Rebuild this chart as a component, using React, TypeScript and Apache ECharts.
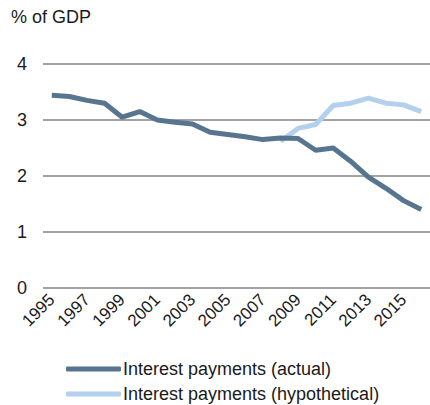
import React, { useEffect, useRef } from "react";
import * as echarts from "echarts";

const years = [
  "1995", "1996", "1997", "1998", "1999", "2000", "2001", "2002", "2003", "2004", "2005",
  "2006", "2007", "2008", "2009", "2010", "2011", "2012", "2013", "2014", "2015", "2016",
];
const actual = [
  3.44, 3.42, 3.35, 3.3, 3.05, 3.15, 3.0, 2.96, 2.93, 2.78, 2.74,
  2.7, 2.65, 2.68, 2.67, 2.46, 2.5, 2.26, 1.98, 1.78, 1.56, 1.4,
];
const hypothetical = [
  null, null, null, null, null, null, null, null, null, null, null,
  null, null, 2.62, 2.85, 2.92, 3.26, 3.3, 3.39, 3.3, 3.27, 3.15,
];
const yTicks = [0, 1, 2, 3, 4];

const FONT = "Arial, 'Liberation Sans', sans-serif";

export default function App() {
  const ref = useRef<HTMLDivElement>(null);
  useEffect(() => {
    if (!ref.current) return;
    const chart = echarts.init(ref.current, null, { renderer: "svg" });
    chart.setOption({
      animation: false,
      title: {
        text: "% of GDP",
        left: 6,
        top: 3,
        textStyle: { fontSize: 18, fontWeight: "normal", color: "#1a1a1a", fontFamily: FONT },
      },
      grid: { left: 43, top: 64, width: 392, height: 224, containLabel: false },
      xAxis: {
        type: "category",
        data: years,
        boundaryGap: true,
        axisLine: { show: false },
        axisTick: { show: false },
        axisLabel: {
          interval: 1,
          rotate: 45,
          margin: 9,
          fontSize: 17,
          color: "#1a1a1a",
          fontFamily: FONT,
        },
      },
      yAxis: {
        type: "value",
        min: yTicks[0],
        max: yTicks[yTicks.length - 1],
        interval: 1,
        axisLine: { show: false },
        axisTick: { show: false },
        axisLabel: { fontSize: 18, color: "#1a1a1a", margin: 16, fontFamily: FONT },
        splitLine: { lineStyle: { color: "#848484", width: 1.5 } },
      },
      legend: {
        orient: "vertical",
        left: 61,
        top: 358,
        height: 80,
        itemWidth: 55,
        itemHeight: 5,
        itemGap: 7,
        padding: [2, 5, 0, 5],
        icon: "roundRect",
        textStyle: { fontSize: 18, color: "#1a1a1a", fontFamily: FONT, padding: [0, 0, 0, -3] },
        data: ["Interest payments (actual)", "Interest payments (hypothetical)"],
      },
      series: [
        {
          name: "Interest payments (actual)",
          type: "line",
          data: actual,
          symbol: "none",
          lineStyle: { color: "#587590", width: 5 },
          itemStyle: { color: "#587590" },
          z: 3,
        },
        {
          name: "Interest payments (hypothetical)",
          type: "line",
          data: hypothetical,
          symbol: "none",
          lineStyle: { color: "#b3d1ef", width: 5 },
          itemStyle: { color: "#b3d1ef" },
          z: 2,
        },
      ],
    });
    return () => chart.dispose();
  }, []);
  return (
    <div
      ref={ref}
      style={{ position: "absolute", left: 0, top: 0, width: 430, height: 405 }}
    />
  );
}
